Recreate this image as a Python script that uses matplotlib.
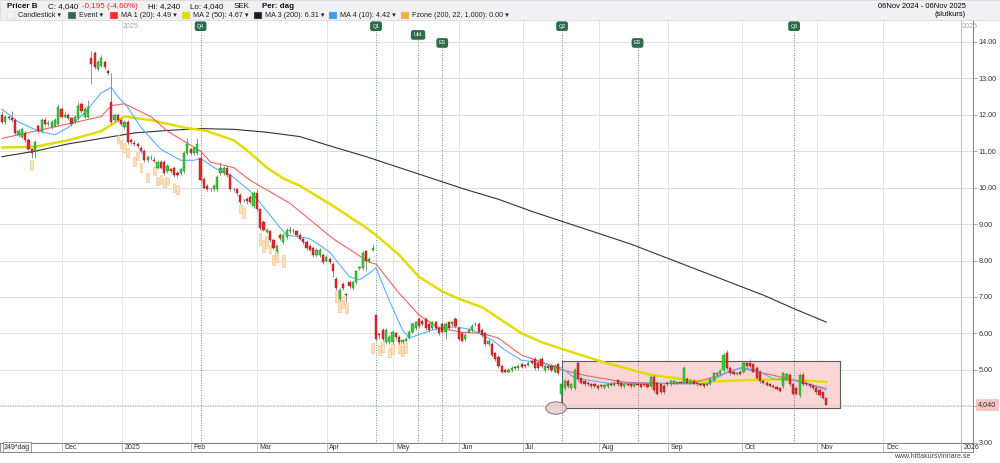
import matplotlib
matplotlib.use("Agg")
import matplotlib.pyplot as plt
from matplotlib.patches import Rectangle, Ellipse
from matplotlib.transforms import blended_transform_factory

plt.rcParams['font.family'] = ['Liberation Sans', 'DejaVu Sans']

## daily candles, 06Nov2024 - 06Nov2025 (trading day index 0..249)
opens = [12.0, 11.8, 11.95, 11.9, 11.85, 11.45, 11.4, 11.5, 11.3, 11.05,
         11.0, 11.7, 11.55, 11.85, 11.75, 11.65, 11.7, 11.75, 12.15, 11.95,
         12.0, 11.9, 11.8, 11.9, 12.3, 11.95, 11.95, 13.55, 13.7, 13.25,
         13.35, 13.45, 13.2, 12.35, 11.85, 12.0, 11.85, 11.65, 11.8, 11.3,
         11.22, 11.2, 11.1, 11.0, 10.75, 10.8, 10.75, 10.55, 10.7, 10.7,
         10.45, 10.5, 10.55, 10.4, 10.4, 10.45, 10.95, 11.05, 10.95, 10.95,
         10.8, 10.25, 10.05, 9.96, 9.95, 9.95, 10.4, 10.4, 10.55, 10.35,
         9.96, 9.95, 9.8, 9.66, 9.7, 9.75, 9.5, 9.85, 9.4, 9.05,
         8.78, 8.8, 8.55, 8.25, 8.7, 8.5, 8.65, 8.8, 8.8, 8.8,
         8.7, 8.6, 8.5, 8.4, 8.35, 8.15, 8.15, 8.15, 8.0, 8.05,
         7.9, 7.5, 6.95, 7.35, 7.06, 7.4, 7.25, 7.4, 7.8, 7.8,
         8.25, 8.0, 8.3, 6.5, 5.96, 6.1, 5.75, 5.75, 5.75, 6.0,
         5.9, 5.75, 5.78, 5.9, 6.05, 6.15, 6.4, 6.35, 6.4, 6.25,
         6.15, 6.3, 6.15, 6.25, 6.05, 6.3, 6.25, 6.4, 6.15, 6.0,
         5.85, 6.05, 6.1, 6.26, 6.25, 6.1, 6.0, 5.7, 5.7, 5.45,
         5.35, 5.1, 5.0, 4.95, 5.0, 5.06, 5.05, 5.15, 5.11, 5.12,
         5.25, 5.3, 5.2, 5.3, 5.0, 5.1, 5.1, 4.95, 5.15, 4.35,
         4.5, 4.7, 4.5, 4.5, 5.2, 4.78, 4.7, 4.65, 4.62, 4.6,
         4.55, 4.56, 4.52, 4.55, 4.62, 4.58, 4.72, 4.65, 4.55, 4.59,
         4.6, 4.55, 4.62, 4.6, 4.59, 4.6, 4.55, 4.8, 4.65, 4.6,
         4.55, 4.65, 4.6, 4.62, 4.62, 4.66, 4.65, 4.75, 4.62, 4.7,
         4.65, 4.62, 4.6, 4.57, 4.6, 4.72, 4.85, 4.88, 5.0, 5.45,
         5.05, 4.95, 4.88, 4.95, 4.95, 5.2, 5.2, 5.15, 5.05, 4.95,
         4.7, 4.65, 4.6, 4.56, 4.53, 4.5, 4.55, 4.75, 4.85, 4.6,
         4.5, 4.3, 4.85, 4.65, 4.6, 4.55, 4.5, 4.45, 4.38, 4.24]
closes = [11.8, 11.95, 11.9, 11.85, 11.5, 11.55, 11.6, 11.3, 11.05, 10.95,
          11.25, 11.55, 11.85, 11.75, 11.76, 11.8, 11.85, 12.2, 11.95, 12.0,
          11.9, 11.75, 11.95, 12.25, 12.1, 12.15, 12.2, 13.4, 13.3, 13.45,
          13.55, 13.3, 13.15, 11.8, 12.0, 11.85, 11.75, 11.8, 11.25, 11.25,
          11.2, 11.15, 11.0, 10.75, 10.85, 10.81, 10.74, 10.7, 10.55, 10.4,
          10.6, 10.45, 10.35, 10.35, 10.5, 10.95, 11.2, 10.95, 11.1, 11.2,
          10.2, 10.0, 9.95, 9.95, 10.05, 10.3, 10.55, 10.55, 10.35, 9.95,
          9.95, 9.85, 9.6, 9.65, 9.62, 9.6, 9.85, 9.4, 8.9, 8.85,
          8.85, 8.55, 8.35, 8.4, 8.62, 8.7, 8.85, 8.85, 8.81, 8.7,
          8.6, 8.5, 8.35, 8.3, 8.15, 8.3, 8.3, 7.95, 8.1, 7.95,
          7.7, 7.25, 7.2, 7.25, 7.05, 7.3, 7.4, 7.7, 7.81, 8.2,
          8.0, 8.05, 8.35, 5.85, 5.95, 5.85, 6.1, 5.9, 6.05, 5.9,
          5.75, 5.82, 5.85, 6.05, 6.25, 6.3, 6.2, 6.25, 6.15, 6.1,
          6.3, 6.15, 6.0, 6.05, 6.25, 6.15, 6.3, 6.2, 5.85, 5.8,
          5.95, 6.1, 6.2, 6.25, 6.05, 5.95, 5.7, 5.8, 5.4, 5.3,
          5.1, 4.95, 4.95, 5.0, 5.05, 5.05, 5.1, 5.08, 5.1, 5.2,
          5.2, 5.05, 5.05, 5.1, 5.1, 5.05, 5.0, 5.1, 4.9, 4.6,
          4.7, 4.55, 4.6, 5.0, 4.75, 4.65, 4.6, 4.6, 4.55, 4.55,
          4.5, 4.55, 4.58, 4.62, 4.58, 4.65, 4.6, 4.55, 4.6, 4.58,
          4.55, 4.62, 4.57, 4.52, 4.58, 4.52, 4.8, 4.45, 4.35, 4.4,
          4.4, 4.6, 4.68, 4.68, 4.66, 4.65, 5.05, 4.65, 4.7, 4.62,
          4.6, 4.58, 4.55, 4.62, 4.75, 4.9, 4.92, 4.98, 5.4, 5.05,
          4.9, 4.88, 4.92, 4.88, 5.2, 5.1, 5.1, 4.95, 4.78, 4.68,
          4.65, 4.58, 4.56, 4.52, 4.48, 4.43, 4.9, 4.88, 4.6, 4.35,
          4.35, 4.85, 4.6, 4.6, 4.55, 4.5, 4.4, 4.3, 4.235, 4.04]
highs = [12.1, 12.0, 12.0, 12.1, 11.9, 11.6, 11.65, 11.55, 11.35, 11.1,
         11.3, 11.75, 11.9, 11.95, 11.85, 11.85, 11.9, 12.3, 12.2, 12.1,
         12.05, 11.95, 12.0, 12.35, 12.35, 12.2, 12.4, 13.75, 13.75, 13.5,
         13.65, 13.5, 13.25, 13.15, 12.05, 12.05, 11.9, 11.85, 11.85, 11.35,
         11.3, 11.25, 11.15, 11.05, 10.9, 10.9, 10.85, 10.75, 10.75, 10.75,
         10.65, 10.55, 10.6, 10.45, 10.55, 11.0, 11.35, 11.1, 11.15, 11.35,
         11.0, 10.3, 10.1, 10.0, 10.1, 10.35, 10.7, 10.6, 10.6, 10.4,
         10.0, 10.0, 9.85, 9.7, 9.75, 9.8, 9.9, 9.95, 9.45, 9.1,
         8.9, 8.85, 8.6, 8.45, 8.75, 8.75, 8.9, 8.95, 8.9, 8.85,
         8.75, 8.65, 8.55, 8.45, 8.4, 8.35, 8.35, 8.2, 8.15, 8.1,
         7.95, 7.55, 7.25, 7.4, 7.1, 7.45, 7.45, 7.75, 7.85, 8.25,
         8.3, 8.1, 8.45, 6.5, 6.0, 6.15, 6.15, 5.95, 6.1, 6.05,
         5.95, 5.85, 5.9, 6.1, 6.3, 6.35, 6.45, 6.4, 6.45, 6.3,
         6.35, 6.35, 6.2, 6.3, 6.3, 6.35, 6.35, 6.45, 6.2, 6.05,
         6.0, 6.15, 6.25, 6.3, 6.3, 6.15, 6.05, 5.85, 5.75, 5.5,
         5.4, 5.15, 5.05, 5.05, 5.1, 5.1, 5.15, 5.2, 5.15, 5.25,
         5.3, 5.35, 5.25, 5.35, 5.15, 5.15, 5.15, 5.15, 5.2, 4.65,
         4.75, 4.75, 4.65, 5.05, 5.25, 4.8, 4.75, 4.7, 4.65, 4.65,
         4.6, 4.6, 4.62, 4.65, 4.66, 4.7, 4.75, 4.7, 4.65, 4.62,
         4.65, 4.65, 4.65, 4.62, 4.62, 4.62, 4.85, 4.85, 4.7, 4.62,
         4.6, 4.7, 4.72, 4.72, 4.7, 4.7, 5.1, 4.8, 4.75, 4.75,
         4.7, 4.65, 4.62, 4.65, 4.8, 4.95, 4.95, 5.02, 5.45, 5.55,
         5.1, 5.0, 4.95, 5.0, 5.25, 5.25, 5.3, 5.2, 5.1, 5.0,
         4.75, 4.7, 4.65, 4.6, 4.56, 4.52, 4.95, 4.92, 4.9, 4.65,
         4.55, 4.9, 4.95, 4.7, 4.65, 4.6, 4.55, 4.5, 4.4, 4.24]
lows = [11.75, 11.75, 11.85, 11.8, 11.45, 11.4, 11.35, 11.25, 11.0, 10.8,
        10.8, 11.5, 11.5, 11.7, 11.7, 11.6, 11.65, 11.7, 11.9, 11.9,
        11.85, 11.7, 11.75, 11.85, 12.05, 11.9, 11.9, 12.85, 13.25, 13.2,
        13.3, 13.25, 13.1, 11.75, 11.8, 11.8, 11.7, 11.6, 11.2, 11.2,
        11.15, 11.1, 10.95, 10.7, 10.7, 10.75, 10.7, 10.5, 10.5, 10.35,
        10.4, 10.4, 10.3, 10.3, 10.35, 10.4, 10.9, 10.9, 10.9, 10.9,
        10.15, 9.95, 9.9, 9.9, 9.9, 9.9, 10.35, 10.35, 10.3, 9.9,
        9.9, 9.8, 9.55, 9.6, 9.55, 9.55, 9.45, 9.35, 8.85, 8.8,
        8.75, 8.5, 8.3, 8.2, 8.55, 8.45, 8.6, 8.75, 8.75, 8.65,
        8.55, 8.45, 8.3, 8.25, 8.1, 8.1, 8.1, 7.9, 7.95, 7.9,
        7.55, 7.2, 6.9, 7.2, 6.85, 7.25, 7.2, 7.35, 7.75, 7.75,
        7.7, 7.95, 8.25, 5.8, 5.85, 5.8, 5.7, 5.7, 5.7, 5.85,
        5.7, 5.7, 5.75, 5.85, 6.0, 6.1, 6.15, 6.2, 6.1, 6.05,
        6.1, 6.1, 5.95, 6.0, 5.85, 6.1, 6.2, 6.15, 5.8, 5.75,
        5.8, 6.0, 6.05, 6.2, 6.0, 5.9, 5.65, 5.65, 5.35, 5.25,
        5.05, 4.9, 4.9, 4.9, 4.95, 5.0, 5.0, 5.05, 5.05, 5.1,
        5.15, 5.0, 5.0, 5.05, 4.95, 5.0, 4.95, 4.9, 4.85, 4.1,
        4.45, 4.5, 4.45, 4.45, 4.7, 4.6, 4.55, 4.55, 4.5, 4.5,
        4.45, 4.5, 4.48, 4.5, 4.55, 4.55, 4.55, 4.5, 4.5, 4.55,
        4.5, 4.52, 4.55, 4.5, 4.55, 4.5, 4.5, 4.4, 4.3, 4.35,
        4.35, 4.55, 4.55, 4.6, 4.6, 4.6, 4.6, 4.6, 4.6, 4.6,
        4.55, 4.55, 4.5, 4.55, 4.58, 4.7, 4.82, 4.85, 4.95, 5.0,
        4.85, 4.85, 4.85, 4.85, 4.9, 5.05, 5.05, 4.9, 4.75, 4.65,
        4.6, 4.55, 4.52, 4.5, 4.45, 4.4, 4.5, 4.7, 4.55, 4.3,
        4.3, 4.25, 4.55, 4.55, 4.5, 4.45, 4.35, 4.25, 4.2, 4.04]

## moving averages (index, value)
ma1_x = [0, 10, 20, 30, 33, 37, 45, 50, 60, 63, 70, 75, 87, 100, 111, 113, 120, 126,
         132, 139, 145, 150, 157, 163, 169, 176, 188, 198, 208, 217, 223, 233, 249]
ma1_y = [11.35, 11.55, 11.75, 11.95, 12.25, 12.3, 11.95, 11.55, 11.0, 10.7, 10.55, 10.2, 9.57, 8.6, 7.95, 7.9, 7.1, 6.5,
         6.15, 6.03, 6.0, 5.87, 5.4, 5.22, 5.0, 4.85, 4.66, 4.63, 4.63, 4.85, 5.05, 4.85, 4.49]
ma2_x = [0, 10, 20, 30, 37, 45, 55, 62, 70, 75, 80, 85, 90, 100, 110, 113, 120, 126,
         133, 138, 145, 157, 163, 170, 182, 196, 212, 225, 235, 249]
ma2_y = [11.1, 11.12, 11.3, 11.55, 11.95, 11.85, 11.65, 11.55, 11.3, 10.95, 10.55, 10.25, 10.05, 9.5, 8.9, 8.7, 8.15, 7.55,
         7.15, 6.95, 6.72, 6.0, 5.76, 5.55, 5.2, 4.86, 4.67, 4.72, 4.74, 4.67]
ma3_x = [0, 10, 20, 30, 40, 50, 60, 70, 80, 90, 100, 110, 120, 130, 140, 150, 160,
         170, 180, 190, 200, 210, 220, 230, 240, 249]
ma3_y = [10.85, 11.0, 11.2, 11.35, 11.5, 11.57, 11.62, 11.6, 11.52, 11.4, 11.12, 10.85, 10.55, 10.25, 9.95, 9.68, 9.35,
         9.05, 8.75, 8.45, 8.1, 7.75, 7.4, 7.05, 6.65, 6.31]
ma4_x = [0, 5, 11, 16, 20, 25, 30, 33, 35, 38, 42, 48, 54, 58, 60, 64, 69, 75, 77, 84, 86,
         93, 99, 105, 108, 111, 113, 117, 121, 123, 127, 132, 137, 142, 148, 152, 157, 163,
         169, 173, 183, 196, 203, 213, 219, 223, 228, 233, 239, 249]
ma4_y = [12.15, 11.8, 11.55, 11.45, 11.65, 12.05, 12.6, 12.75, 12.5, 12.2, 11.65, 11.05, 10.75, 10.75, 10.8, 10.55, 10.35, 9.9, 9.7, 8.9, 8.7,
         8.6, 8.23, 7.55, 7.47, 7.65, 7.8, 6.9, 6.1, 5.87, 6.0, 6.15, 6.18, 6.1, 5.82, 5.54, 5.26, 5.2,
         5.05, 4.78, 4.63, 4.63, 4.62, 4.62, 4.93, 5.05, 5.0, 4.75, 4.72, 4.45]

## Fzone boxes (index, top, bottom)
fz_x = [9, 35, 36, 37, 38, 40, 41, 42, 44, 46, 47, 48, 49, 50, 52, 53,
        72, 73, 78, 79, 80, 81, 82, 83, 85, 101, 102, 103, 104,
        112, 114, 115, 117, 118, 120, 121, 122]
fz_top = [10.75, 11.44, 11.3, 11.22, 11.08, 10.84, 10.97, 10.67, 10.4, 10.56, 10.28, 10.34, 10.26, 10.28, 10.12, 10.06,
          9.52, 9.44, 8.75, 8.56, 8.67, 8.42, 8.15, 8.28, 8.15, 7.19, 6.91, 7.02, 6.83,
          5.74, 5.68, 5.77, 5.6, 5.71, 5.77, 5.66, 5.74]
fz_bot = [10.48, 11.22, 11.08, 10.97, 10.84, 10.59, 10.75, 10.42, 10.15, 10.34, 10.06, 10.09, 10.01, 10.06, 9.87, 9.82,
          9.3, 9.17, 8.42, 8.23, 8.34, 8.2, 7.87, 7.95, 7.82, 6.85, 6.58, 6.69, 6.56,
          5.46, 5.41, 5.49, 5.35, 5.44, 5.46, 5.38, 5.46]

## events
ev_x = [60, 113, 125.7, 133, 169.2, 192, 239.3]
ev_lbl = ['Q4', 'Q1', 'Utd.', 'ES', 'Q2', 'ES', 'Q3']
ev_y = [14.43, 14.43, 14.19, 13.97, 14.43, 13.97, 14.43]

## x axis months (trading day index)
month_x = [18, 36.2, 57, 77.1, 98.1, 118.2, 138.2, 157.3, 180.4, 201.3, 223.5, 246.3, 266.3, 289.7]
month_lbl = ['Dec', '2025', 'Feb', 'Mar', 'Apr', 'May', 'Jun', 'Jul', 'Aug', 'Sep', 'Oct', 'Nov', 'Dec', '2026']
yticks = [3, 4, 5, 6, 7, 8, 9, 10, 11, 12, 13, 14]

last = 4.04

fig = plt.figure(figsize=(10, 4.63), dpi=100)
ax = fig.add_axes([0, 20.3 / 463, 0.973, 422.7 / 463])
ax.set_xlim(-0.6, 293.35)
ax.set_ylim(3.0, 14.6)

# grid
for v in yticks:
    ax.axhline(v, color='#dcdcdc', lw=0.7, zorder=0)
for m in month_x[:-1]:
    ax.axvline(m, color='#e4e4e4', lw=0.7, zorder=0)
ax.axvline(month_x[-1], color='#c4c4c4', lw=0.8, zorder=0)

# zone box + ellipse
ax.add_patch(Rectangle((169.2, 3.95), 84, 1.29, facecolor='#fbd6d6', edgecolor='#5a5a5a', lw=0.8, zorder=1))
ax.add_patch(Ellipse((167.4, 3.95), 6.2, 0.34, facecolor='#ecd3d3', edgecolor='#777777', lw=0.7, zorder=1))

# last price dotted
ax.axhline(last, color='#aaaaaa', lw=0.6, ls=(0, (1, 2)), zorder=1)

# events
for x, lb, y in zip(ev_x, ev_lbl, ev_y):
    ax.plot([x, x], [3.0, y], color='#2e7d5b', lw=0.6, ls=(0, (1, 2)), zorder=1)
    ax.text(x, y, lb, fontsize=3.9, color='white', ha='center', va='center', zorder=6,
            bbox=dict(boxstyle='round,pad=0.3', fc='#2d6b4a', ec='#2d6b4a'))

# MA lines
ax.plot(ma3_x, ma3_y, color='#333333', lw=0.8, zorder=2)
ax.plot(ma2_x, ma2_y, color='#e3dc00', lw=1.8, zorder=2)
ax.plot(ma1_x, ma1_y, color='#f06262', lw=0.8, zorder=2)
ax.plot(ma4_x, ma4_y, color='#5aaeff', lw=0.8, zorder=2)

# fzone
for x, t, b in zip(fz_x, fz_top, fz_bot):
    ax.add_patch(Rectangle((x - 0.4, b), 0.8, t - b, facecolor='#fde0b8', edgecolor='#e8a860',
                           lw=0.5, ls=(0, (1, 1)), zorder=3))

# candles
idx = list(range(len(closes)))
ax.vlines(idx, lows, highs, color='#808080', lw=0.6, zorder=4)
for i in idx:
    o, c = opens[i], closes[i]
    up = c >= o
    h = max(abs(c - o), 0.02)
    ax.bar(i, h, bottom=min(o, c), width=0.66,
           color='#2fd52f' if up else '#e52a2a',
           edgecolor='#207a20' if up else '#9a1515', lw=0.3, zorder=5)

# right axis (4.00 is covered by the price tag)
ax.yaxis.tick_right()
ax.set_yticks(yticks)
ax.set_yticklabels(['' if v == 4 else '%.2f' % v for v in yticks], fontsize=5.2, color='#333333')
ax.tick_params(axis='y', length=3, width=0.5, color='#888888', pad=1)
ax.set_xticks([])
for s in ['left', 'top']:
    ax.spines[s].set_visible(False)
for s in ['right', 'bottom']:
    ax.spines[s].set_color('#888888')
    ax.spines[s].set_linewidth(0.8)

# year labels on top
ax.text(36.5, 14.43, '2025', fontsize=5.2, color='#aaaaaa', va='center')
ax.text(290.0, 14.43, '2026', fontsize=5.2, color='#aaaaaa', va='center')

# price tag
ax.text(1.005, (last - 3.0) / 11.6, '4,040', transform=ax.transAxes, fontsize=5.2, color='#333333',
        va='center', ha='left', clip_on=False,
        bbox=dict(boxstyle='square,pad=0.25', fc='#f7c4c4', ec='#f0b0b0', lw=0.4))

# month strip under the plot
tr = blended_transform_factory(ax.transData, ax.transAxes)
ax.add_patch(Rectangle((-0.6, -0.022), 293.95, 0.022, transform=tr, facecolor='white',
                       edgecolor='#777777', lw=0.6, clip_on=False, zorder=7))
for m, lb in zip(month_x, month_lbl):
    ax.plot([m, m], [-0.022, 0], transform=tr, color='#aaaaaa', lw=0.5, clip_on=False, zorder=8)
    ax.text(m + 0.8, -0.011, lb, transform=tr, fontsize=5.0, color='#333333', va='center',
            ha='left', clip_on=False, zorder=8)
ax.text(0.6, -0.011, '249*dag', transform=tr, fontsize=5.0, color='#333333', va='center', ha='left',
        clip_on=False, zorder=9,
        bbox=dict(boxstyle='square,pad=0.2', fc='#f4f4f4', ec='#777777', lw=0.5))

# header
fig.patches.append(Rectangle((0, 1 - 20 / 463), 1, 20 / 463, transform=fig.transFigure,
                             facecolor='#f1f1f4', edgecolor='#d8d8de', lw=0.6, zorder=0))
fs = 5.8
y1 = 1 - 6.5 / 463
r = fig.canvas.get_renderer()
hdr = [('Pricer B', 'bold', '#111111', 10), ('C: 4,040', 'normal', '#111111', 4),
       ('-0,195 (-4,60%)', 'normal', '#e02020', 10), ('Hi: 4,240', 'normal', '#111111', 10),
       ('Lo: 4,040', 'normal', '#111111', 11), ('SEK', 'normal', '#111111', 12),
       ('Per: dag', 'bold', '#111111', 0)]
px = 7
for t, w, col, gap in hdr:
    tt = fig.text(px / 1000, y1, t, fontsize=fs, weight=w, color=col, va='center')
    px = tt.get_window_extent(r).x1 + gap
fig.text(966 / 1000, y1, '06Nov 2024 - 06Nov 2025', fontsize=5.4, va='center', ha='right')
fig.text(966 / 1000, 1 - 14.5 / 463, '(slutkurs)', fontsize=5.4, va='center', ha='right')

y2 = 1 - 15.5 / 463
leg_sq = [7, 68, 110, 182, 254, 329, 401]
leg_col = ['#f4f4f4', '#2d6b4a', '#ff2a2a', '#e3dc00', '#1a1a1a', '#3d9cf0', '#f4b040']
leg_txt = ['Candlestick', 'Event', 'MA 1 (20): 4.49', 'MA 2 (50): 4.67', 'MA 3 (200): 6.31',
           'MA 4 (10): 4.42', 'Fzone (200, 22, 1.000): 0.00']
for sx, col, t in zip(leg_sq, leg_col, leg_txt):
    fig.patches.append(Rectangle((sx / 1000, y2 - 3.5 / 463), 8 / 1000, 7 / 463, transform=fig.transFigure,
                                 facecolor=col, edgecolor='#cccccc', lw=0.3))
    fig.text((sx + 11) / 1000, y2, t + ' \u25be', fontsize=5.2, va='center', color='#222222')

fig.text(970 / 1000, 1 - 457 / 463, 'www.hittakursvinnare.se', fontsize=5.0, color='#444444',
         ha='right', va='center')

fig.savefig('out.png', dpi=100, facecolor='white')
